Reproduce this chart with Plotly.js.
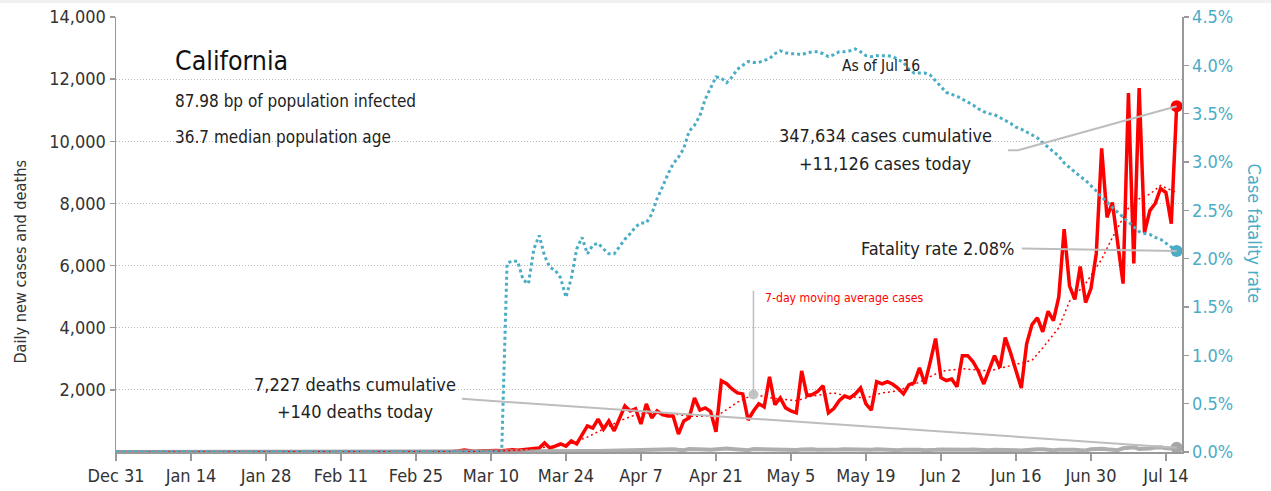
<!DOCTYPE html>
<html>
<head>
<meta charset="utf-8">
<script src="https://cdn.plot.ly/plotly-3.0.1.min.js"></script>
<style>html,body{margin:0;padding:0;background:#fff;}#chart{width:1271px;height:491px;}</style>
</head>
<body>
<div id="chart"></div>
<script>
// ---------- DATA ----------
const startDate = '2019-12-31';   // first day on the axis (day 0)
const endDate = '2020-07-17';

// daily new cases, one value per day from Dec 31 2019 to Jul 16 2020
const dailyCases = [
  0,0,0,0,0,0,0,0,0,0, 0,0,0,0,0,0,0,0,0,0, 0,0,0,0,0,0,0,0,0,0,
  0,0,0,0,0,0,0,0,0,0, 0,0,0,0,0,0,0,0,0,0, 0,0,0,0,0,0,0,0,0,0, 0,
  0,10,20,30,60,40,20,30,40,40,50,40,60,70,60,80,90,
  130,130,290,130,190,260,190,355,260,550,840,770,1060,740,1000,680,1100,1480,1320,1390,
  900,1550,1100,1320,1200,1160,1160,580,1000,1100,1740,1350,1420,1300,650,
  2290,2200,2030,1900,1870,1030,1320,1550,1450,2420,1520,1740,1420,1320,1260,2610,1810,1850,1950,2130,
  1260,1400,1650,1800,1740,1870,2060,1550,1350,2260,2190,2260,2180,2050,1870,2160,2230,2710,2190,2900,
  3650,2390,2300,
  2350,2100,3100,3100,2900,2600,2190,2650,3100,2710,3680,3190,2650,2060,3480,4100,4320,3870,4530,4230,
  4990,7170,5350,4910,5970,4810,5260,6390,9770,7550,8030,6710,5420,11550,6070,11710,7060,7770,8000,8480,
  8350,7350,11126
];

// daily new deaths, same days
const dailyDeaths = [
  0,0,0,0,0,0,0,0,0,0, 0,0,0,0,0,0,0,0,0,0, 0,0,0,0,0,0,0,0,0,0,
  0,0,0,0,0,0,0,0,0,0, 0,0,0,0,0,0,0,0,0,0, 0,0,0,0,0,0,0,0,0,0, 0,
  0,0,0,1,0,1,0,1,0,2,1,2,3,2,5,4,5,6,8,10,12,15,18,20,25,22,28,30,32,35,40,
  45,50,40,60,55,50,60,70,80,65,75,90,85,70,60,95,100,90,80,70,90,95,110,100,85,70,60,95,90,80,
  75,85,70,90,60,65,80,95,85,75,70,60,75,80,90,85,70,65,80,75,90,80,70,65,60,75,80,85,70,60,55,
  70,80,75,65,60,70,75,80,65,60,55,70,75,80,65,60,50,70,80,85,90,60,55,75,80,85,70,60,50,90,
  110,105,85,70,60,120,140,150,100,90,110,145,150,120,110,140
];

// case fatality rate (%), same days
const fatalityRate = [
  0,0,0,0,0,0,0,0,0,0, 0,0,0,0,0,0,0,0,0,0, 0,0,0,0,0,0,0,0,0,0,
  0,0,0,0,0,0,0,0,0,0, 0,0,0,0,0,0,0,0,0,0, 0,0,0,0,0,0,0,0,0,0,
  0,0,0,0,0,0,0,0,0,0, 0,0,0,
  1.95,1.98,1.97,1.78,1.74,2.1,2.24,2.03,1.91,1.88,1.8,1.6,1.8,2.1,2.22,2.05,2.14,2.16,2.1,2.05,
  2.05,2.13,2.2,2.26,2.33,2.37,2.37,2.46,2.62,2.74,2.87,2.98,3.05,3.14,3.32,3.38,3.48,3.65,3.76,3.88,
  3.87,3.82,3.88,3.96,4.0,4.04,4.03,4.03,4.05,4.07,4.12,4.15,4.13,4.12,4.12,4.11,4.13,4.14,4.14,4.12,
  4.09,4.11,4.14,4.14,4.15,4.17,4.14,4.1,4.09,4.1,4.1,4.1,4.09,4.06,4.03,3.96,3.92,3.92,3.92,3.9,
  3.84,3.77,3.72,3.7,3.68,3.65,3.62,3.59,3.55,3.52,3.5,3.49,3.46,3.43,3.4,3.36,3.34,3.31,3.28,3.25,
  3.2,3.15,3.11,3.06,2.99,2.94,2.89,2.85,2.81,2.76,2.7,2.64,2.58,2.53,2.48,2.43,2.37,2.33,2.28,2.26,
  2.25,2.22,2.2,2.16,2.12,2.08
];

// 7-day moving average of cases, read at points along the dotted curve
const maDates = ['2020-01-06','2020-02-29','2020-03-06','2020-03-12','2020-03-16','2020-03-20','2020-03-24',
  '2020-03-28','2020-03-31','2020-04-03','2020-04-06','2020-04-09','2020-04-13','2020-04-16','2020-04-19',
  '2020-04-22','2020-04-25','2020-04-28','2020-05-02','2020-05-06','2020-05-09','2020-05-13','2020-05-16',
  '2020-05-19','2020-05-22','2020-05-25','2020-05-29','2020-06-02','2020-06-06','2020-06-11','2020-06-16',
  '2020-06-19','2020-06-21','2020-06-24','2020-06-26','2020-06-29','2020-07-02','2020-07-04','2020-07-07',
  '2020-07-09','2020-07-11','2020-07-13','2020-07-14','2020-07-16'];
const maValues = [0,0,10,35,70,150,230,480,750,1000,1200,1280,1230,1150,1150,1250,1600,1850,1720,1650,
  1800,1900,1780,1740,1900,1970,2250,2600,2680,2610,2820,2950,3350,4000,4850,5420,6200,6900,7850,8150,
  8300,8580,8500,8350];
const maCalloutIndex = 17;   // the point that carries the "7-day moving average cases" label

// x-axis tick labels
const tickDates = ['2019-12-31','2020-01-14','2020-01-28','2020-02-11','2020-02-25','2020-03-10','2020-03-24',
  '2020-04-07','2020-04-21','2020-05-05','2020-05-19','2020-06-02','2020-06-16','2020-06-30','2020-07-14'];
const tickLabels = ['Dec 31','Jan 14','Jan 28','Feb 11','Feb 25','Mar 10','Mar 24','Apr 7','Apr 21',
  'May 5','May 19','Jun 2','Jun 16','Jun 30','Jul 14'];
const leftTicks = [2000,4000,6000,8000,10000,12000,14000];

// texts
const stateName = 'California';
const infoLines = ['87.98 bp of population infected', '36.7 median population age'];
const asOfText = 'As of Jul 16';
const casesText = ['347,634 cases cumulative', '+11,126 cases today'];
const fatalityText = 'Fatality rate 2.08%';
const deathsText = ['7,227 deaths cumulative', '+140 deaths today'];
const maText = '7-day moving average cases';
const leftTitle = 'Daily new cases and deaths';
const rightTitle = 'Case fatality rate';

// ---------- helpers ----------
const DAY = 86400000;
const t0 = Date.UTC(2019, 11, 31);
function dayStr(d) {
  return new Date(t0 + d * DAY).toISOString().slice(0, 19).replace('T', ' ');
}
const dates = dailyCases.map((_, i) => dayStr(i).slice(0, 10));
const last = dates.length - 1;

const FONT = "'DejaVu Sans Condensed', 'Liberation Sans Narrow', sans-serif";
const RED = '#ff0000', BLUE = '#4bacc6', GREY = '#a6a6a6', CONN = '#bdbdbd', TXT = '#222222';

const traces = [
  {x: dates, y: dailyCases, type: 'scatter', mode: 'lines', line: {color: RED, width: 3.5}, hoverinfo: 'skip'},
  {x: dates, y: dailyDeaths, type: 'scatter', mode: 'lines', line: {color: 'rgba(160,160,160,0.85)', width: 4}, hoverinfo: 'skip'},
  {x: dates, y: fatalityRate, yaxis: 'y2', type: 'scatter', mode: 'lines', line: {color: BLUE, width: 3, dash: '3px,3px'}, hoverinfo: 'skip'},
  {x: maDates, y: maValues, type: 'scatter', mode: 'lines', line: {color: RED, width: 1.5, dash: '2px,3px'}, hoverinfo: 'skip'},
  // end-point dots
  {x: [dates[last]], y: [dailyCases[last]], type: 'scatter', mode: 'markers', marker: {color: RED, size: 12}, hoverinfo: 'skip'},
  {x: [dates[last]], y: [fatalityRate[last]], yaxis: 'y2', type: 'scatter', mode: 'markers', marker: {color: BLUE, size: 12}, hoverinfo: 'skip'},
  {x: [dates[last]], y: [dailyDeaths[last]], type: 'scatter', mode: 'markers', marker: {color: GREY, size: 12}, hoverinfo: 'skip'},
  {x: [maDates[maCalloutIndex]], y: [maValues[maCalloutIndex]], type: 'scatter', mode: 'markers', marker: {color: '#c4c4c4', size: 10}, hoverinfo: 'skip'}
];

const shapes = [
  // light strip at the top of the picture
  {type: 'rect', xref: 'paper', yref: 'paper', x0: -0.12, x1: 1.1, y0: 1.032, y1: 1.05, fillcolor: '#f0f0f0', line: {width: 0}, layer: 'below'},
  // cases connector
  {type: 'line', xref: 'x', yref: 'y', x0: dayStr(166.5), y0: 9711, x1: dayStr(168.4), y1: 9711, line: {color: CONN, width: 2}},
  {type: 'line', xref: 'x', yref: 'y', x0: dayStr(168.4), y0: 9711, x1: dates[last], y1: dailyCases[last], line: {color: CONN, width: 2}},
  // fatality connector
  {type: 'line', xref: 'x', yref: 'y2', x0: dayStr(169.1), y0: 2.105, x1: dates[last], y1: fatalityRate[last], line: {color: CONN, width: 2}},
  // deaths connector
  {type: 'line', xref: 'x', yref: 'y', x0: dayStr(64.6), y0: 1710, x1: dates[last], y1: dailyDeaths[last], line: {color: CONN, width: 2}},
  // moving average pointer
  {type: 'line', xref: 'x', yref: 'y', x0: maDates[maCalloutIndex], y0: 5194, x1: maDates[maCalloutIndex], y1: maValues[maCalloutIndex], line: {color: CONN, width: 1.5}}
];

const ann = (text, x, y, size, opts) => Object.assign({
  text: text, xref: 'paper', yref: 'paper', x: x, y: y, showarrow: false,
  font: {family: FONT, size: size, color: TXT}, xanchor: 'left', yanchor: 'middle'
}, opts || {});

const annotations = [
  ann(stateName, 0.0535, 0.901, 26.5, {font: {family: FONT, size: 26.5, color: '#111'}}),
  ann(infoLines[0], 0.0535, 0.8065, 17),
  ann(infoLines[1], 0.0535, 0.7235, 17),
  ann(asOfText, 0.7174, 0.887, 15.5, {xanchor: 'center'}),
  ann(casesText[0], 0.722, 0.7281, 18, {xanchor: 'center'}),
  ann(casesText[1], 0.722, 0.6636, 18, {xanchor: 'center'}),
  ann(fatalityText, 0.8441, 0.4677, 18, {xanchor: 'right'}),
  ann(deathsText[0], 0.2244, 0.1544, 18, {xanchor: 'center'}),
  ann(deathsText[1], 0.2244, 0.0922, 18, {xanchor: 'center'}),
  ann(maText, 0.6066, 0.3548, 12.2, {font: {family: FONT, size: 12.2, color: RED}}),
  ann(leftTitle, -0.090, 0.4378, 16.2, {xanchor: 'center', textangle: -90, font: {family: FONT, size: 16.2, color: '#333'}}),
  ann(rightTitle, 1.0676, 0.502, 18, {xanchor: 'center', textangle: 90, font: {family: FONT, size: 18, color: BLUE}})
];

const layout = {
  width: 1271, height: 491,
  margin: {l: 116, r: 89, t: 17, b: 39},
  paper_bgcolor: '#ffffff', plot_bgcolor: '#ffffff',
  showlegend: false,
  font: {family: FONT, color: '#333'},
  xaxis: {
    type: 'date', range: [startDate, endDate],
    tickmode: 'array', tickvals: tickDates, ticktext: tickLabels,
    ticks: 'outside', ticklen: 7, tickcolor: '#999', tickwidth: 1.5,
    showline: true, linecolor: '#999', linewidth: 1.5,
    showgrid: false, zeroline: false,
    tickfont: {family: FONT, size: 18, color: '#333'}
  },
  yaxis: {
    range: [0, 14000], tickmode: 'array', tickvals: leftTicks, tickformat: ',d',
    ticks: 'outside', ticklen: 5, tickcolor: '#999', tickwidth: 1.5,
    showline: true, linecolor: '#999', linewidth: 1.5,
    showgrid: true, gridcolor: '#b8b8b8', griddash: '1px,2px', gridwidth: 1,
    zeroline: false,
    tickfont: {family: FONT, size: 18, color: '#333'}
  },
  yaxis2: {
    overlaying: 'y', side: 'right', range: [0, 4.5], dtick: 0.5, tick0: 0,
    tickformat: '.1f', ticksuffix: '%',
    ticks: 'outside', ticklen: 5, tickcolor: '#999', tickwidth: 1.5,
    showline: true, linecolor: '#999', linewidth: 1.5,
    showgrid: false, zeroline: false,
    tickfont: {family: FONT, size: 18, color: BLUE}
  },
  shapes: shapes,
  annotations: annotations
};

Plotly.newPlot('chart', traces, layout, {displayModeBar: false, staticPlot: true});
</script>
</body>
</html>
